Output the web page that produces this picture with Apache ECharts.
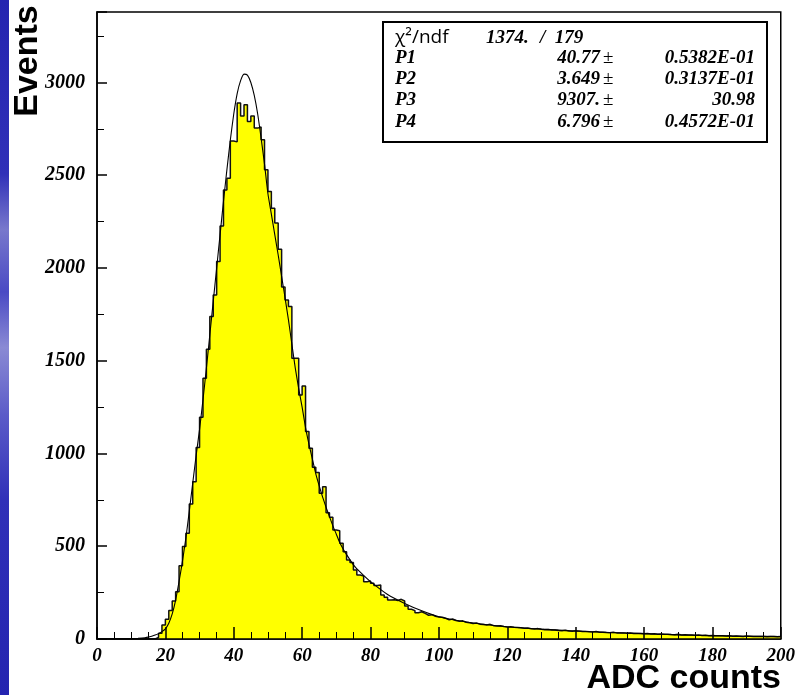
<!DOCTYPE html>
<html>
<head>
<meta charset="utf-8">
<script src="https://cdn.jsdelivr.net/npm/echarts@6/dist/echarts.min.js"></script>
<style>
html,body{margin:0;padding:0;background:#fff;}
#main{width:798px;height:695px;}
</style>
</head>
<body>
<div id="main"></div>
<script>
// ---- data ----
// histogram: 200 bins of width 1 ADC count, bin i covers [i, i+1)
const binValues = [
  0,0,0,0,0,0,0,0,0,0,0,0,0,0,0,0,0,
  8,
  31,75,106,153,205,255,395,498,570,728,848,1032,
  1195,1406,1562,1738,1855,2035,2227,2421,2484,2685,
  2680,2889,2820,2880,2790,2820,2754,2760,2691,2529,
  2412,2322,2242,2101,1897,1828,1792,1514,1514,1316,
  1364,1118,1028,926,897,786,821,681,656,588,
  584,516,471,426,412,372,345,340,309,313,
  300,288,291,237,225,210,212,208,214,205,
  178,160,153,142,147,138,128,131,122,118,
  117,112,104,108,100,96,98,90,88,84,86,80,78,76,79,72,70,71,67,64,
  66,63,62,60,58,59,55,54,56,52,50,51,48,49,46,45,47,43,42,44,
  43,40,41,39,38,40,36,37,35,34,36,33,32,33,31,32,30,29,30,28,
  29,27,28,26,27,25,26,24,23,25,22,23,21,22,20,21,19,20,18,19,
  18,17,18,16,17,15,16,15,14,16,15,14,13,14,13,12,14,13,12,13
];
// fit curve
const curveX = [0,8,10,12,14,15,16,17,18,19,20,21,22,23,24,25,26,27,28,29,30,31,32,33,34,35,36,37,38,39,40,41,42,43,44,45,46,47,48,49,50,51,52,53,54,55,56,57,58,59,60,61,62,63,64,65,66,67,68,69,70,71,72,73,75,77,80,85,90,95,100,110,120,130,140,150,160,170,180,190,200];
const curveY = [0,1,2,4,7,10,15,21,29,40,55,85,135,210,310,420,545,690,840,990,1130,1290,1460,1640,1820,2000,2180,2360,2530,2690,2830,2940,3010,3045,3040,3000,2930,2830,2700,2560,2400,2290,2180,2070,1955,1840,1720,1590,1460,1350,1250,1140,1050,970,890,825,765,710,660,610,565,520,485,455,400,360,309,240,192,152,120,86,66,53,43,35,29,22,18,15,13];
const xTickLabels = [0,20,40,60,80,100,120,140,160,180,200];
const yTickLabels = [0,500,1000,1500,2000,2500,3000];
const chiLabel = 'χ²/ndf';
const chiValue = '1374.';
const ndfValue = '/  179';
const parNames = ['P1','P2','P3','P4'];
const parValues = ['40.77','3.649','9307.','6.796'];
const parErrors = ['0.5382E-01','0.3137E-01','30.98','0.4572E-01'];
const xTitle = 'ADC counts';
const yTitle = 'Events';

// ---- build step outline from bins ----
const stepData = [];
binValues.forEach((v, i) => { stepData.push([i, v]); stepData.push([i + 1, v]); });
const curveData = curveX.map((x, i) => [x, curveY[i]]);

const chart = echarts.init(document.getElementById('main'), null, {renderer: 'canvas'});
const serif = '"Liberation Serif", "DejaVu Serif", serif';
const sans = '"Liberation Sans", Arial, sans-serif';
const statFont = 'italic bold 19px ' + serif;

const graphics = [
  {type: 'rect', left: 0, top: 0, z: 100,
   shape: {x: 0, y: 0, width: 9, height: 695},
   style: {fill: new echarts.graphic.LinearGradient(0, 0, 0, 1, [
     {offset: 0, color: '#2424b0'}, {offset: 0.25, color: '#3030b8'},
     {offset: 0.33, color: '#7878cc'}, {offset: 0.42, color: '#4a4ac4'},
     {offset: 0.5, color: '#8a8ad4'}, {offset: 0.6, color: '#5a5ac8'},
     {offset: 0.72, color: '#3030b8'}, {offset: 1, color: '#2424b0'}])}},
  {type: 'text', x: 28, y: 61, rotation: Math.PI / 2, z: 100,
   style: {text: yTitle, font: 'bold 34px ' + sans, fill: '#000', align: 'center', verticalAlign: 'middle'}},
  {type: 'text', x: 781, y: 679, z: 100,
   style: {text: xTitle, font: 'bold 34px ' + sans, fill: '#000', align: 'right', verticalAlign: 'middle'}},
  {type: 'rect', z: 100, shape: {x: 383, y: 22, width: 384, height: 120},
   style: {fill: '#fff', stroke: '#000', lineWidth: 2}},
  {type: 'text', x: 395, y: 38, z: 101,
   style: {text: chiLabel, font: '19px "Open Sans", sans-serif', fill: '#000', align: 'left', verticalAlign: 'middle'}},
  {type: 'text', x: 486, y: 38, z: 101,
   style: {text: chiValue, font: statFont, fill: '#000', align: 'left', verticalAlign: 'middle'}},
  {type: 'text', x: 540, y: 38, z: 101,
   style: {text: ndfValue, font: statFont, fill: '#000', align: 'left', verticalAlign: 'middle'}}
];
const rowY = [58, 79, 100, 122];
parNames.forEach((n, i) => {
  graphics.push({type: 'text', x: 395, y: rowY[i], z: 101,
    style: {text: n, font: statFont, fill: '#000', align: 'left', verticalAlign: 'middle'}});
  graphics.push({type: 'text', x: 600, y: rowY[i], z: 101,
    style: {text: parValues[i], font: statFont, fill: '#000', align: 'right', verticalAlign: 'middle'}});
  graphics.push({type: 'text', x: 603, y: rowY[i], z: 101,
    style: {text: '±', font: '19px ' + serif, fill: '#000', align: 'left', verticalAlign: 'middle'}});
  graphics.push({type: 'text', x: 755, y: rowY[i], z: 101,
    style: {text: parErrors[i], font: statFont, fill: '#000', align: 'right', verticalAlign: 'middle'}});
});

chart.setOption({
  animation: false,
  backgroundColor: '#fff',
  grid: {left: 97, right: 16, top: 12, bottom: 56, show: true, borderColor: '#000', borderWidth: 1.5, backgroundColor: 'transparent'},
  xAxis: {
    type: 'value', min: 0, max: 200, interval: 20, z: 10,
    axisLine: {show: true, lineStyle: {color: '#000', width: 1.5}},
    axisTick: {show: true, inside: true, length: 12, lineStyle: {color: '#000', width: 1.5}},
    minorTick: {show: true, splitNumber: 4, length: 7, lineStyle: {color: '#000', width: 1}},
    splitLine: {show: false},
    axisLabel: {margin: 8, color: '#000', fontFamily: serif, fontStyle: 'italic', fontWeight: 'bold', fontSize: 19,
      formatter: v => xTickLabels.indexOf(v) >= 0 ? String(v) : ''}
  },
  yAxis: {
    type: 'value', min: 0, max: 3380, interval: 500, z: 10,
    axisLine: {show: true, lineStyle: {color: '#000', width: 1.5}},
    axisTick: {show: true, inside: true, length: 10, lineStyle: {color: '#000', width: 1.5}},
    minorTick: {show: true, splitNumber: 2, length: 7, lineStyle: {color: '#000', width: 1}},
    splitLine: {show: false},
    axisLabel: {margin: 12, color: '#000', fontFamily: serif, fontStyle: 'italic', fontWeight: 'bold', fontSize: 20,
      formatter: v => yTickLabels.indexOf(v) >= 0 ? String(v) : ''}
  },
  series: [
    {type: 'line', data: stepData, showSymbol: false, z: 2,
     lineStyle: {color: '#111', width: 1.5}, areaStyle: {color: '#ffff00', opacity: 1}},
    {type: 'line', data: curveData, showSymbol: false, smooth: 0.2, z: 3,
     lineStyle: {color: '#000', width: 1.1}}
  ],
  graphic: graphics
});
</script>
</body>
</html>
